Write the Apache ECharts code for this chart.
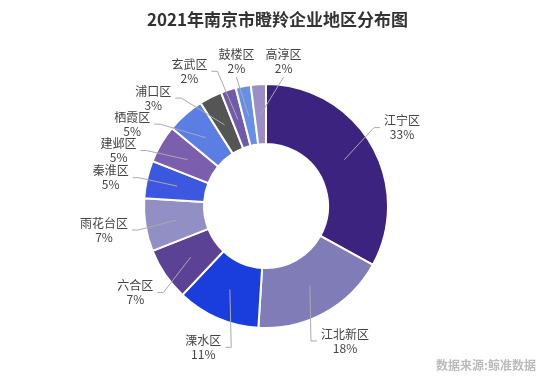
<!DOCTYPE html>
<html><head><meta charset="utf-8">
<script src="https://cdn.jsdelivr.net/npm/echarts@6/dist/echarts.min.js"></script>
<style>html,body{margin:0;padding:0;background:#fff}#c{width:555px;height:384px}</style>
</head><body><div id="c"></div>
<script>
const categories = ['江宁区','江北新区','溧水区','六合区','雨花台区','秦淮区','建邺区','栖霞区','浦口区','玄武区','鼓楼区','高淳区'];
const values = [33,18,11,7,7,5,5,5,3,2,2,2];
const colors = ['#3d2380','#7f7cb8','#1a3ddd','#5c4294','#918fc3','#3d58e0','#7b5fae','#5a7ee4','#555555','#705bab','#6690e8','#9d8dc6'];

// layout settings
const CX = 266, CY = 206, R_IN = 62, R_OUT = 122, R_LINE = 91, R_ANCHOR = 140;
const FONT = '"Noto Sans CJK SC","Noto Sans",sans-serif';
const LINE_H = 14, PADX_TOP = 10, PADX = 2, PADY = -2, STEP = 0.25, TOP_MIN = 47;

// label spreading: start at slice mid angles, push apart until labels don't overlap; keep below the title area
const total = values.reduce((a,b)=>a+b,0);
let acc = 0;
const mids = values.map(v=>{const m=(acc+v/2)/total*360; acc+=v; return m;});
const ctx = document.createElement('canvas').getContext('2d');
ctx.font = '12px ' + FONT;
const sizes = categories.map((n,i)=>({w:Math.max(ctx.measureText(n).width, ctx.measureText(values[i]+'%').width), h:LINE_H*2}));
function pos(i, th){
  const r = th*Math.PI/180, ux = Math.sin(r), uy = -Math.cos(r);
  const y = CY + R_ANCHOR*uy + uy*sizes[i].h/2, yMin = TOP_MIN + sizes[i].h/2;
  return {x: CX + R_ANCHOR*ux + ux*sizes[i].w/2, y: Math.max(y, yMin), clamped: y < yMin, ux, uy};
}
const norm = t => ((t%360)+360)%360;
const n = values.length;
// natural centre of the labels that start in the top row
let sx = 0, sy = 0;
mids.forEach((m,i)=>{ if (pos(i,m).clamped){ sx += Math.sin(m*Math.PI/180); sy += Math.cos(m*Math.PI/180); } });
const topRef = norm(Math.atan2(sx, sy)*180/Math.PI);
const rel = t => Math.round((((t - topRef + 540) % 360) - 180)*1000)/1000;

const ang = mids.slice();
for (let it=0; it<8000; it++){
  let moved = false;
  for (let i=0;i<n;i++){
    const j=(i+1)%n, a=pos(i,ang[i]), b=pos(j,ang[j]);
    const padx = (a.clamped || b.clamped) ? PADX_TOP : PADX;
    if (Math.abs(a.x-b.x) < (sizes[i].w+sizes[j].w)/2+padx && Math.abs(a.y-b.y) < (sizes[i].h+sizes[j].h)/2+PADY){
      const ti = norm(ang[i]), tj = norm(ang[j]);
      if (a.clamped && b.clamped){
        const di = rel(ang[i]), dj = rel(ang[j]);
        if (di <= 0 && dj <= 0) ang[i]-=2*STEP;
        else if (di >= 0 && dj >= 0) ang[j]+=2*STEP;
        else { ang[i]-=STEP; ang[j]+=STEP; }
      }
      else if (ti>180 && tj>180){ ang[i]-=2*STEP; }
      else if (ti<180 && tj<180){ ang[j]+=2*STEP; }
      else { ang[i]-=STEP; ang[j]+=STEP; }
      moved=true;
    }
  }
  if(!moved) break;
}
const labelPos = categories.map((_,i)=>pos(i,ang[i]));

const data = categories.map((nm,i)=>({name:nm,value:values[i],itemStyle:{color:colors[i]}}));
const labelData = categories.map((nm,i)=>({name:nm,value:values[i]}));

const chart = echarts.init(document.getElementById('c'));
chart.setOption({
  animation:false,
  title:[{text:'2021年南京市瞪羚企业地区分布图',left:'center',top:6,
    textStyle:{fontSize:17,fontWeight:'bold',color:'#333',fontFamily:FONT}},
    {text:'数据来源:鲸准数据',right:14,bottom:8,textStyle:{fontSize:12,fontWeight:'bold',color:'#bbb',fontFamily:FONT}}],
  series:[
    {type:'pie',center:[CX,CY],radius:[R_IN,R_OUT],startAngle:90,clockwise:true,
     data:data,label:{show:false},labelLine:{show:false},
     itemStyle:{borderColor:'#fff',borderWidth:2},silent:true},
    {type:'pie',center:[CX,CY],radius:[0,R_LINE],startAngle:90,clockwise:true,avoidLabelOverlap:false,
     data:labelData,itemStyle:{color:'rgba(0,0,0,0)'},silent:true,z:5,
     label:{show:true,formatter:'{a|{b}}\n{a|{c}%}',color:'#444',fontFamily:FONT,fontSize:12,
       rich:{a:{align:'center',fontSize:12,color:'#444',lineHeight:LINE_H,fontFamily:FONT}}},
     labelLine:{show:true,length:34,length2:8,lineStyle:{color:'#aaa',width:1}},
     labelLayout:function(p){
       const i = p.dataIndex, L = labelPos[i], s = sizes[i];
       const p0 = p.labelLinePoints ? p.labelLinePoints[0] : [CX,CY];
       let p1, p2;
       if (Math.abs(L.ux) < 0.25){ p2=[L.x, L.y+s.h/2+2]; p1=[L.x, L.y+s.h/2+2]; }
       else if (L.x > CX){ p2=[L.x-s.w/2-4, L.y]; p1=[p2[0]-6, L.y]; }
       else { p2=[L.x+s.w/2+4, L.y]; p1=[p2[0]+6, L.y]; }
       return {x:L.x, y:L.y, align:'center', verticalAlign:'middle', labelLinePoints:[p0,p1,p2]};
     }}
  ]
});
</script></body></html>
